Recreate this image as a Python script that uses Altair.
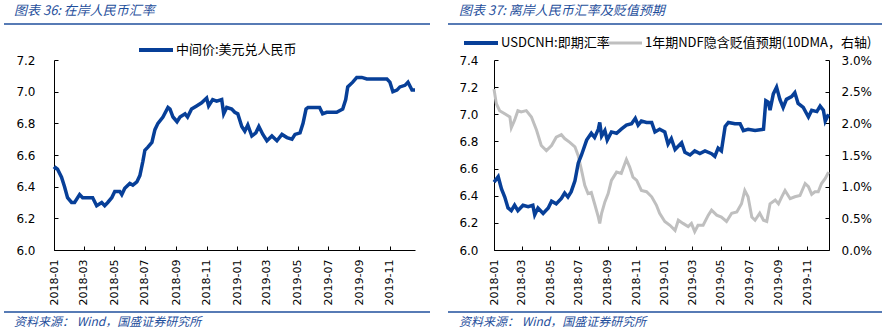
import altair as alt
import pandas as pd

# ---------------- data ----------------
# Left panel: 中间价:美元兑人民币
cny_dates = [
    "2018-01-01", "2018-01-04", "2018-01-08", "2018-01-16", "2018-01-22", "2018-01-28",
    "2018-02-05", "2018-02-11", "2018-02-21", "2018-02-27", "2018-03-09", "2018-03-19",
    "2018-03-27", "2018-04-06", "2018-04-12", "2018-04-18", "2018-04-26", "2018-05-02",
    "2018-05-12", "2018-05-16", "2018-05-22", "2018-06-01", "2018-06-07", "2018-06-15",
    "2018-06-21", "2018-06-27", "2018-07-01", "2018-07-07", "2018-07-15", "2018-07-21",
    "2018-07-27", "2018-08-06", "2018-08-16", "2018-08-20", "2018-08-26", "2018-09-03",
    "2018-09-09", "2018-09-19", "2018-09-24", "2018-10-02", "2018-10-12", "2018-10-22",
    "2018-11-01", "2018-11-05", "2018-11-13", "2018-11-21", "2018-12-01", "2018-12-05",
    "2018-12-11", "2018-12-21", "2018-12-27", "2019-01-02", "2019-01-10", "2019-01-16",
    "2019-01-22", "2019-01-30", "2019-02-07", "2019-02-13", "2019-02-21", "2019-03-01",
    "2019-03-11", "2019-03-21", "2019-03-31", "2019-04-10", "2019-04-20", "2019-04-26",
    "2019-05-06", "2019-05-12", "2019-05-18", "2019-05-22", "2019-06-01", "2019-06-14",
    "2019-06-20", "2019-06-28", "2019-07-08", "2019-07-18", "2019-07-30", "2019-08-05",
    "2019-08-09", "2019-08-19", "2019-08-27", "2019-09-06", "2019-09-16", "2019-10-06",
    "2019-10-26", "2019-11-01", "2019-11-07", "2019-11-15", "2019-11-21", "2019-12-01",
    "2019-12-07", "2019-12-15", "2019-12-21",
]
cny_values = [
    6.51, 6.52, 6.51, 6.46, 6.40, 6.33,
    6.30, 6.30, 6.35, 6.33, 6.33, 6.33,
    6.28, 6.30, 6.28, 6.30, 6.33, 6.37,
    6.37, 6.35, 6.39, 6.42, 6.41, 6.43,
    6.47, 6.56, 6.63, 6.65, 6.68, 6.76,
    6.80, 6.84, 6.90, 6.89, 6.84, 6.81,
    6.84, 6.86, 6.84, 6.89, 6.91, 6.93,
    6.96, 6.91, 6.95, 6.94, 6.95, 6.86,
    6.90, 6.89, 6.87, 6.86, 6.78, 6.75,
    6.79, 6.72, 6.74, 6.78, 6.73, 6.69,
    6.72, 6.69, 6.73, 6.71, 6.70, 6.73,
    6.74, 6.80, 6.89, 6.90, 6.90, 6.90,
    6.86, 6.87, 6.87, 6.87, 6.89, 6.95,
    7.03, 7.06, 7.09, 7.09, 7.08, 7.08,
    7.08, 7.06, 7.00, 7.01, 7.03, 7.04,
    7.06, 7.01, 7.01,
]

# Right panel: USDCNH:即期汇率 (left axis)
cnh_dates = [
    "2018-01-01", "2018-01-10", "2018-01-17", "2018-01-24", "2018-01-31", "2018-02-07",
    "2018-02-14", "2018-02-21", "2018-03-04", "2018-03-15", "2018-03-25", "2018-03-29",
    "2018-04-05", "2018-04-16", "2018-04-27", "2018-05-04", "2018-05-14", "2018-05-25",
    "2018-06-01", "2018-06-08", "2018-06-15", "2018-06-23", "2018-06-30", "2018-07-07",
    "2018-07-18", "2018-07-28", "2018-08-04", "2018-08-12", "2018-08-15", "2018-08-19",
    "2018-08-26", "2018-08-31", "2018-09-09", "2018-09-20", "2018-09-30", "2018-10-11",
    "2018-10-22", "2018-10-30", "2018-11-05", "2018-11-12", "2018-11-23", "2018-12-04",
    "2018-12-11", "2018-12-21", "2019-01-01", "2019-01-08", "2019-01-15", "2019-01-23",
    "2019-02-06", "2019-02-13", "2019-02-24", "2019-03-06", "2019-03-17", "2019-03-28",
    "2019-04-11", "2019-04-18", "2019-04-25", "2019-05-02", "2019-05-10", "2019-05-17",
    "2019-05-31", "2019-06-11", "2019-06-18", "2019-06-28", "2019-07-13", "2019-07-31",
    "2019-08-05", "2019-08-10", "2019-08-14", "2019-08-21", "2019-08-28", "2019-09-04",
    "2019-09-11", "2019-09-18", "2019-09-29", "2019-10-06", "2019-10-13", "2019-10-24",
    "2019-11-04", "2019-11-11", "2019-11-22", "2019-11-29", "2019-12-06", "2019-12-10",
    "2019-12-17",
]
cnh_values = [
    6.50, 6.54, 6.45, 6.39, 6.31, 6.29,
    6.33, 6.29, 6.33, 6.32, 6.33, 6.26,
    6.31, 6.27, 6.31, 6.36, 6.34, 6.38,
    6.42, 6.39, 6.43, 6.51, 6.64, 6.70,
    6.81, 6.86, 6.83, 6.89, 6.94, 6.84,
    6.88, 6.81, 6.87, 6.86, 6.89, 6.92,
    6.93, 6.97, 6.92, 6.95, 6.94, 6.94,
    6.87, 6.89, 6.87, 6.78, 6.82, 6.74,
    6.79, 6.72, 6.70, 6.73, 6.71, 6.73,
    6.71, 6.69, 6.75, 6.73, 6.91, 6.94,
    6.93, 6.93, 6.88, 6.89, 6.88, 6.89,
    7.10, 7.09, 7.03, 7.15, 7.20, 7.11,
    7.05, 7.11, 7.13, 7.16, 7.08, 7.05,
    6.98, 7.03, 7.02, 7.06, 7.03, 6.95,
    7.00,
]

# Right panel: 1年期NDF隐含贬值预期 (10DMA, right axis), in percent
ndf_dates = [
    "2018-01-01", "2018-01-06", "2018-01-13", "2018-01-24", "2018-02-04", "2018-02-07",
    "2018-02-14", "2018-02-21", "2018-02-28", "2018-03-11", "2018-03-22", "2018-04-02",
    "2018-04-12", "2018-04-23", "2018-05-04", "2018-05-14", "2018-05-25", "2018-06-01",
    "2018-06-12", "2018-06-23", "2018-06-30", "2018-07-07", "2018-07-14", "2018-07-21",
    "2018-07-28", "2018-08-04", "2018-08-12", "2018-08-15", "2018-08-19", "2018-08-26",
    "2018-09-02", "2018-09-09", "2018-09-20", "2018-09-30", "2018-10-11", "2018-10-18",
    "2018-10-25", "2018-11-02", "2018-11-12", "2018-11-23", "2018-12-04", "2018-12-14",
    "2018-12-21", "2019-01-01", "2019-01-12", "2019-01-23", "2019-01-30", "2019-02-09",
    "2019-02-20", "2019-02-27", "2019-03-06", "2019-03-13", "2019-03-24", "2019-04-04",
    "2019-04-11", "2019-04-22", "2019-05-02", "2019-05-13", "2019-05-24", "2019-06-04",
    "2019-06-14", "2019-06-21", "2019-06-28", "2019-07-06", "2019-07-13", "2019-07-23",
    "2019-07-31", "2019-08-07", "2019-08-14", "2019-08-25", "2019-09-01", "2019-09-08",
    "2019-09-15", "2019-09-26", "2019-10-06", "2019-10-17", "2019-10-28", "2019-11-04",
    "2019-11-11", "2019-11-18", "2019-11-25", "2019-12-02", "2019-12-10", "2019-12-17",
]
ndf_values_pct = [
    2.54, 2.31, 2.20, 2.15, 2.10, 1.93,
    2.05, 2.20, 2.18, 2.20, 2.10, 1.89,
    1.65, 1.57, 1.65, 1.78, 1.82, 1.76,
    1.70, 1.63, 1.49, 1.26, 1.02, 0.89,
    0.91, 0.73, 0.52, 0.42, 0.58, 0.76,
    0.89, 1.10, 1.23, 1.21, 1.43, 1.31,
    1.15, 1.10, 0.94, 0.92, 0.84, 0.71,
    0.58, 0.45, 0.39, 0.31, 0.47, 0.42,
    0.37, 0.42, 0.29, 0.39, 0.39, 0.55,
    0.63, 0.55, 0.52, 0.45, 0.58, 0.60,
    0.73, 0.94, 0.84, 0.52, 0.47, 0.58,
    0.47, 0.45, 0.73, 0.79, 0.73, 0.84,
    0.94, 0.81, 0.84, 0.86, 1.05, 1.00,
    0.88, 0.92, 0.92, 1.05, 1.13, 1.23,
]

x_tick_dates = [
    "2018-01-01", "2018-03-01", "2018-05-01", "2018-07-01", "2018-09-01", "2018-11-01",
    "2019-01-01", "2019-03-01", "2019-05-01", "2019-07-01", "2019-09-01", "2019-11-01",
]
left_y_ticks = [6.0, 6.2, 6.4, 6.6, 6.8, 7.0, 7.2]
right_y_ticks = [6.0, 6.2, 6.4, 6.6, 6.8, 7.0, 7.2, 7.4]
right_y2_ticks = [0.0, 0.005, 0.01, 0.015, 0.02, 0.025, 0.03]

title_left = "图表 36:  在岸人民币汇率"
title_right = "图表 37:  离岸人民币汇率及贬值预期"
source_text = "资料来源：  Wind，国盛证券研究所"
legend_left = "中间价:美元兑人民币"
legend_cnh = "USDCNH:即期汇率"
legend_ndf = "1年期NDF隐含贬值预期(10DMA，右轴)"

# ---------------- styling ----------------
W1, W2, H = 361, 335, 190
BLUE = "#073f98"
HEAD_BLUE = "#1f4f9c"
GRAY = "#bfbfbf"
NUM_FONT = "DejaVu Sans"
CJK_FONT = "Noto Sans CJK SC"
INWARD = {"expr": "-4"}


def dt(s):
    return alt.DateTime(year=int(s[:4]), month=int(s[5:7]), date=int(s[8:10]))


def one():
    return pd.DataFrame({"k": [0]})


def x_axis():
    return alt.Axis(
        values=[dt(s) for s in x_tick_dates], format="%Y-%m", labelAngle=270,
        labelFont=NUM_FONT, labelFontSize=11, labelColor="black",
        ticks=True, tickSize=INWARD, tickColor="black", tickWidth=1,
        labelPadding=13, domainColor="black", domainWidth=1,
        grid=False, labelOverlap=False, labelFlush=False, labelBound=False,
    )


def y_axis(values, fmt, orient, pad):
    return alt.Axis(
        values=values, format=fmt, orient=orient, labelFont=NUM_FONT,
        labelFontSize=12, labelColor="black",
        ticks=True, tickSize=INWARD, tickColor="black", tickWidth=1,
        labelPadding=pad, domainColor="black", domainWidth=1, grid=False,
        labelOverlap=False, labelFlush=False, labelBound=False,
    )


def deco(x0, x1, title, title_x):
    return [
        # invisible anchor fixing the page origin
        alt.Chart(one()).mark_rule(opacity=0).encode(
            x=alt.value(-54), x2=alt.value(-53), y=alt.value(-60)),
        alt.Chart(one()).mark_rule(color=HEAD_BLUE, strokeWidth=1.5).encode(
            x=alt.value(x0), x2=alt.value(x1), y=alt.value(-36)),
        alt.Chart(one()).mark_rule(color=HEAD_BLUE, strokeWidth=1.5).encode(
            x=alt.value(x0), x2=alt.value(x1), y=alt.value(252)),
        alt.Chart(pd.DataFrame({"t": [title]})).mark_text(
            font=CJK_FONT, fontSize=13, fontStyle="italic", color=HEAD_BLUE,
            align="left", baseline="middle").encode(
            text="t:N", x=alt.value(title_x), y=alt.value(-49)),
        alt.Chart(pd.DataFrame({"t": [source_text]})).mark_text(
            font=CJK_FONT, fontSize=12, fontStyle="italic", color=HEAD_BLUE,
            align="left", baseline="middle").encode(
            text="t:N", x=alt.value(title_x), y=alt.value(262)),
    ]


def legend_item(x0, y, color, sw, label):
    return [
        alt.Chart(one()).mark_rule(color=color, strokeWidth=sw).encode(
            x=alt.value(x0), x2=alt.value(x0 + 34), y=alt.value(y)),
        alt.Chart(pd.DataFrame({"t": [label]})).mark_text(
            font=CJK_FONT, fontSize=13, color="black", align="left",
            baseline="middle").encode(text="t:N", x=alt.value(x0 + 37), y=alt.value(y)),
    ]


# ---------------- left panel ----------------
cny_df = pd.DataFrame({"date": pd.to_datetime(cny_dates), "value": cny_values})
xs_left = alt.Scale(domain=[dt("2018-01-01"), dt("2019-12-21")])
ys_left = alt.Scale(domain=[6.0, 7.2], nice=False, zero=False)

line_left = alt.Chart(cny_df).mark_line(color=BLUE, strokeWidth=3.5).encode(
    x=alt.X("date:T", scale=xs_left, axis=x_axis(), title=None),
    y=alt.Y("value:Q", scale=ys_left, axis=y_axis(left_y_ticks, ".1f", "left", 23), title=None),
)

left = alt.layer(
    line_left,
    *deco(-50, 376, title_left, -40),
    *legend_item(85, -10, BLUE, 4, legend_left),
).properties(width=W1, height=H)

# ---------------- right panel ----------------
cnh_df = pd.DataFrame({"date": pd.to_datetime(cnh_dates), "cnh": cnh_values})
ndf_df = pd.DataFrame({"date": pd.to_datetime(ndf_dates),
                       "ndf": [v / 100 for v in ndf_values_pct]})
xs_right = alt.Scale(domain=[dt("2018-01-01"), dt("2019-12-18")])
ys_right = alt.Scale(domain=[6.0, 7.4], nice=False, zero=False)
ys_right2 = alt.Scale(domain=[0.0, 0.03], nice=False)

line_ndf = alt.Chart(ndf_df).mark_line(color=GRAY, strokeWidth=3).encode(
    x=alt.X("date:T", scale=xs_right, axis=x_axis(), title=None),
    y=alt.Y("ndf:Q", scale=ys_right2, axis=y_axis(right_y2_ticks, ".1%", "right", 16), title=None),
)

line_cnh = alt.Chart(cnh_df).mark_line(color=BLUE, strokeWidth=3.5).encode(
    x=alt.X("date:T", scale=xs_right, axis=x_axis(), title=None),
    y=alt.Y("cnh:Q", scale=ys_right, axis=y_axis(right_y_ticks, ".1f", "left", 20), title=None),
)

right = alt.layer(
    line_ndf,
    line_cnh,
    *deco(-46, 388, title_right, -35),
    *legend_item(-30, -17, BLUE, 4, legend_cnh),
    *legend_item(114, -17, GRAY, 3, legend_ndf),
).resolve_scale(y="independent").properties(width=W2, height=H)

chart = alt.hconcat(
    left, right, spacing=79, bounds="flush", padding=0, background="white"
).configure_view(
    strokeWidth=0
).configure_axis(
    labelOverlap=False, labelFlush=False, labelBound=False
)

chart.save("out.html", embed_options={"renderer": "svg", "actions": False})
